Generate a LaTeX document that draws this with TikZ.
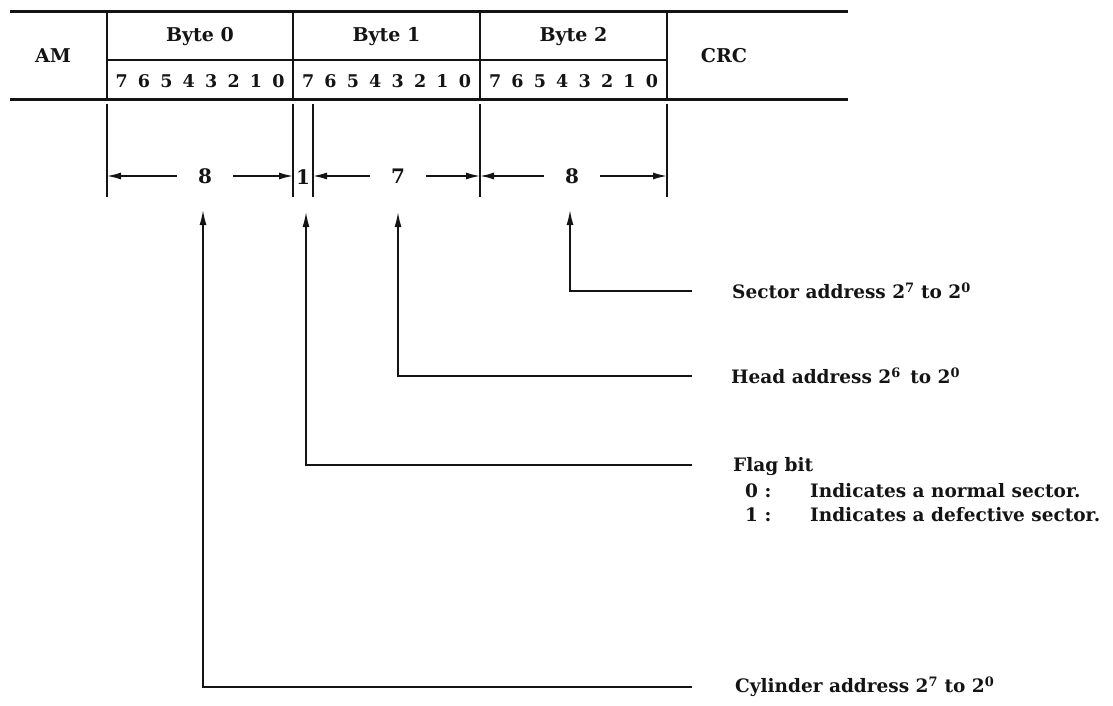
\documentclass[tikz,border=0pt]{standalone}
\usepackage{fontspec}
\setmainfont{DejaVu Serif}
\usepackage{xcolor}
\definecolor{inkblack}{RGB}{20,20,20}
\usepackage{tikz}
\usetikzlibrary{arrows.meta,positioning}
\tikzset{
  field rule/.style={line width=3pt, inkblack},
  field line/.style={line width=2pt, inkblack},
  ext line/.style={line width=1.6pt, inkblack},
  dim arrow/.style={-{Latex[length=14pt, width=7pt]}, line width=1.5pt, inkblack},
  ptr arrow/.style={-{Latex[length=15pt, width=7pt]}, line width=1.5pt, inkblack},
  field text/.style={font=\fontsize{19}{22}\selectfont\bfseries, text=inkblack, inner sep=0pt},
  bit text/.style={font=\fontsize{17.5}{22}\selectfont\bfseries, text=inkblack, inner sep=0pt},
  dim text/.style={font=\fontsize{20}{22}\selectfont\bfseries, text=inkblack, inner ysep=0pt, inner xsep=21pt},
  note text/.style={font=\fontsize{18.5}{22}\selectfont\bfseries, text=inkblack, anchor=west, inner sep=0pt},
}

\begin{document}
\begin{tikzpicture}[x=1pt, y=-1pt]
  \useasboundingbox (0,0) rectangle (1113,706);
  % record layout
  \draw[field rule] (10,12) -- (848,12);
  \draw[field rule] (10,100) -- (848,100);
  \draw[field line] (107,60) -- (667,60);
  \foreach \x in {107,293,480,667}
    \draw[field line] (\x,12) -- (\x,100);
  \node[field text] (am) at (53,56) {AM};
  \node[field text] (crc) at (724,56) {CRC};
  \foreach \b/\cx in {0/200,1/386.5,2/573.5} {
    \node[field text] (byte\b) at (\cx,37) {Byte \b};
    \foreach \k in {0,...,7}
      \node[bit text] (bit\b\k) at (\cx+78.4-22.4*\k,81) {\k};
  }
  % extension lines
  \foreach \x/\n in {107/0,293/1,313/2,480/3,667/4} {
    \draw[ext line] (\x,104) -- (\x,197);
    \coordinate (e\n) at (\x,176);
  }
  \node[dim text] (d8a) at (205,176) {8};
  \node[dim text, inner xsep=0pt] (d1) at (303,177) {1};
  \node[dim text] (d7) at (398,176) {7};
  \node[dim text] (d8b) at (572,176) {8};
  \draw[dim arrow] (d8a) -- (e0);
  \draw[dim arrow] (d8a) -- (e1);
  \draw[dim arrow] (d7) -- (e2);
  \draw[dim arrow] (d7) -- (e3);
  \draw[dim arrow] (d8b) -- (e3);
  \draw[dim arrow] (d8b) -- (e4);
  % field descriptions
  \coordinate (tipS) at (570,210);
  \coordinate (tipH) at (398,212);
  \coordinate (tipF) at (306,212);
  \coordinate (tipC) at (203,210);
  \node[note text] (sector) at (732,291) {Sector address 2\textsuperscript{7} to 2\textsuperscript{0}};
  \node[note text] (head) at (731,376) {Head address 2\textsuperscript{6}\, to 2\textsuperscript{0}};
  \node[note text] (flag) at (733,467) {Flag bit};
  \node[note text] (flag0) at (745,491) {\makebox[65pt][l]{0 :}Indicates a normal sector.};
  \node[note text] (flag1) at (745,515) {\makebox[65pt][l]{1 :}Indicates a defective sector.};
  \node[note text] (cyl) at (735,687) {Cylinder address 2\textsuperscript{7} to 2\textsuperscript{0}};
  \draw[ptr arrow] (sector.west) ++(-40,0) -| (tipS);
  \draw[ptr arrow] (head.west) ++(-39,0) -| (tipH);
  \draw[ptr arrow] (flag.west) ++(-41,-2) -| (tipF);
  \draw[ptr arrow] (cyl.west) ++(-43,0) -| (tipC);
\end{tikzpicture}
\end{document}
